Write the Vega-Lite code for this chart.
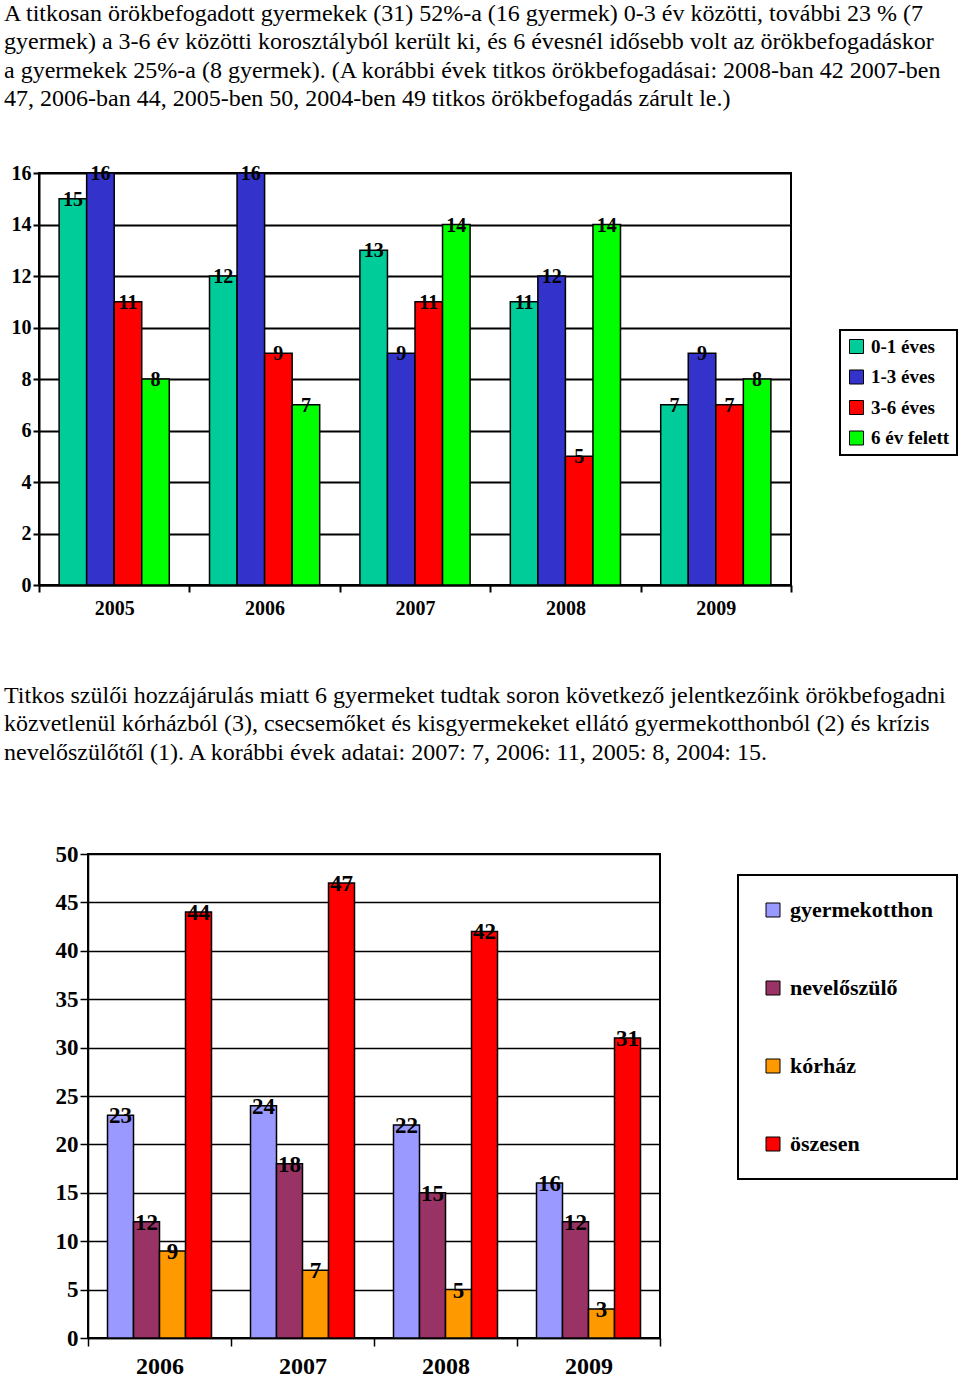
{
  "$schema": "https://vega.github.io/schema/vega-lite/v6.json",
  "background": "white",
  "padding": {"left": 3, "top": 0, "right": 0, "bottom": 0},
  "spacing": 64,
  "resolve": {"scale": {"x": "independent", "y": "independent", "xOffset": "independent", "color": "independent"}, "legend": {"color": "independent"}, "axis": {"x": "independent", "y": "independent"}},
  "config": {
    "font": "Liberation Serif",
    "view": {"stroke": "black", "strokeWidth": 2},
    "axis": {"labelColor": "black", "labelFont": "Liberation Serif", "labelFontWeight": "bold", "domainColor": "black", "tickColor": "black", "gridColor": "black", "gridOpacity": 1},
    "legend": {"strokeWidth": 2}
  },
  "datasets": {
    "age": [
      {"ev": "2005", "kor": "0-1 éves", "db": 15}, {"ev": "2005", "kor": "1-3 éves", "db": 16}, {"ev": "2005", "kor": "3-6 éves", "db": 11}, {"ev": "2005", "kor": "6 év felett", "db": 8},
      {"ev": "2006", "kor": "0-1 éves", "db": 12}, {"ev": "2006", "kor": "1-3 éves", "db": 16}, {"ev": "2006", "kor": "3-6 éves", "db": 9}, {"ev": "2006", "kor": "6 év felett", "db": 7},
      {"ev": "2007", "kor": "0-1 éves", "db": 13}, {"ev": "2007", "kor": "1-3 éves", "db": 9}, {"ev": "2007", "kor": "3-6 éves", "db": 11}, {"ev": "2007", "kor": "6 év felett", "db": 14},
      {"ev": "2008", "kor": "0-1 éves", "db": 11}, {"ev": "2008", "kor": "1-3 éves", "db": 12}, {"ev": "2008", "kor": "3-6 éves", "db": 5}, {"ev": "2008", "kor": "6 év felett", "db": 14},
      {"ev": "2009", "kor": "0-1 éves", "db": 7}, {"ev": "2009", "kor": "1-3 éves", "db": 9}, {"ev": "2009", "kor": "3-6 éves", "db": 7}, {"ev": "2009", "kor": "6 év felett", "db": 8}
    ],
    "src": [
      {"ev": "2006", "hely": "gyermekotthon", "db": 23}, {"ev": "2006", "hely": "nevelőszülő", "db": 12}, {"ev": "2006", "hely": "kórház", "db": 9}, {"ev": "2006", "hely": "öszesen", "db": 44},
      {"ev": "2007", "hely": "gyermekotthon", "db": 24}, {"ev": "2007", "hely": "nevelőszülő", "db": 18}, {"ev": "2007", "hely": "kórház", "db": 7}, {"ev": "2007", "hely": "öszesen", "db": 47},
      {"ev": "2008", "hely": "gyermekotthon", "db": 22}, {"ev": "2008", "hely": "nevelőszülő", "db": 15}, {"ev": "2008", "hely": "kórház", "db": 5}, {"ev": "2008", "hely": "öszesen", "db": 42},
      {"ev": "2009", "hely": "gyermekotthon", "db": 16}, {"ev": "2009", "hely": "nevelőszülő", "db": 12}, {"ev": "2009", "hely": "kórház", "db": 3}, {"ev": "2009", "hely": "öszesen", "db": 31}
    ],
    "blank": [{"n": 0}]
  },
  "vconcat": [
    {
      "width": 752,
      "height": 412,
      "title": {
        "text": [
          "A titkosan örökbefogadott gyermekek (31) 52%-a (16 gyermek) 0-3 év közötti, további 23 % (7",
          "gyermek) a 3-6 év közötti korosztályból került ki, és 6 évesnél idősebb volt az örökbefogadáskor",
          "a gyermekek 25%-a (8 gyermek). (A korábbi évek titkos örökbefogadásai: 2008-ban 42 2007-ben",
          "47, 2006-ban 44, 2005-ben 50, 2004-ben 49 titkos örökbefogadás zárult le.)"
        ],
        "anchor": "start", "frame": "group", "dx": -35, "offset": 52,
        "font": "Liberation Serif", "fontSize": 24, "fontWeight": "normal", "lineHeight": 28.4, "color": "black"
      },
      "data": {"name": "age"},
      "encoding": {
        "x": {"field": "ev", "type": "nominal", "scale": {"paddingInner": 0, "paddingOuter": 0},
          "axis": {"title": null, "labelAngle": 0, "tickBand": "extent", "labelFontSize": 20, "tickSize": 7, "tickWidth": 2, "domainWidth": 2, "labelPadding": 6}},
        "xOffset": {"field": "kor", "type": "nominal", "scale": {"paddingInner": 0, "paddingOuter": 0.73}},
        "y": {"field": "db", "type": "quantitative", "scale": {"domain": [0, 16], "nice": false},
          "axis": {"title": null, "values": [0, 2, 4, 6, 8, 10, 12, 14, 16], "labelFontSize": 20, "tickSize": 6, "tickWidth": 2, "domainWidth": 2, "gridWidth": 2, "labelPadding": 2}}
      },
      "layer": [
        {
          "mark": {"type": "bar", "stroke": "black", "strokeWidth": 1.5},
          "encoding": {
            "color": {"field": "kor", "type": "nominal",
              "scale": {"domain": ["0-1 éves", "1-3 éves", "3-6 éves", "6 év felett"], "range": ["#00CC99", "#3333CC", "#FF0000", "#00FF00"]},
              "legend": {"title": null, "orient": "none", "legendX": 801, "legendY": 157, "strokeColor": "black", "fillColor": "white", "padding": 7,
                "symbolType": "square", "symbolSize": 196, "symbolStrokeColor": "black", "symbolStrokeWidth": 1, "symbolOpacity": 1,
                "labelFont": "Liberation Serif", "labelFontSize": 19, "labelFontWeight": "bold", "labelColor": "black", "rowPadding": 10.5, "labelOffset": 5}}
          }
        },
        {
          "mark": {"type": "text", "baseline": "middle", "fontWeight": "bold", "fontSize": 20, "dy": 1, "color": "black"},
          "encoding": {"text": {"field": "db", "type": "quantitative"}}
        }
      ]
    },
    {
      "title": {
        "text": [
          "Titkos szülői hozzájárulás miatt 6 gyermeket tudtak soron következő jelentkezőink örökbefogadni",
          "közvetlenül kórházból (3), csecsemőket és kisgyermekeket ellátó gyermekotthonból (2) és krízis",
          "nevelőszülőtől (1). A korábbi évek adatai: 2007: 7, 2006: 11, 2005: 8, 2004: 15."
        ],
        "anchor": "start", "frame": "group", "dx": -35, "offset": 77,
        "font": "Liberation Serif", "fontSize": 24, "fontWeight": "normal", "lineHeight": 28.6, "color": "black"
      },
      "spacing": 11,
      "hconcat": [
        {
          "width": 1,
          "height": 1,
          "view": {"stroke": null},
          "data": {"name": "blank"},
          "mark": {"type": "point", "opacity": 0}
        },
        {
          "width": 572,
          "height": 484,
          "data": {"name": "src"},
          "encoding": {
            "x": {"field": "ev", "type": "nominal", "scale": {"paddingInner": 0, "paddingOuter": 0},
              "axis": {"title": null, "labelAngle": 0, "tickBand": "extent", "labelFontSize": 24, "tickSize": 8, "tickWidth": 1.5, "domainWidth": 1.5, "labelPadding": 8}},
            "xOffset": {"field": "hely", "type": "nominal", "sort": ["gyermekotthon", "nevelőszülő", "kórház", "öszesen"], "scale": {"paddingInner": 0, "paddingOuter": 0.75}},
            "y": {"field": "db", "type": "quantitative", "scale": {"domain": [0, 50], "nice": false},
              "axis": {"title": null, "values": [0, 5, 10, 15, 20, 25, 30, 35, 40, 45, 50], "labelFontSize": 23, "tickSize": 8, "tickWidth": 1.5, "domainWidth": 1.5, "gridWidth": 1.5, "labelPadding": 2}}
          },
          "layer": [
            {
              "mark": {"type": "bar", "stroke": "black", "strokeWidth": 1.5},
              "encoding": {
                "color": {"field": "hely", "type": "nominal",
                  "scale": {"domain": ["gyermekotthon", "nevelőszülő", "kórház", "öszesen"], "range": ["#9999FF", "#993366", "#FF9900", "#FF0000"]},
                  "legend": {"title": null, "orient": "none", "legendX": 699, "legendY": 21, "strokeColor": "black", "fillColor": "white", "padding": 24,
                    "symbolType": "square", "symbolSize": 196, "symbolStrokeColor": "black", "symbolStrokeWidth": 1, "symbolOpacity": 1,
                    "labelFont": "Liberation Serif", "labelFontSize": 22, "labelFontWeight": "bold", "labelColor": "black", "rowPadding": 56, "labelOffset": 6}}
              }
            },
            {
              "mark": {"type": "text", "baseline": "middle", "fontWeight": "bold", "fontSize": 23, "dy": 1, "color": "black"},
              "encoding": {"text": {"field": "db", "type": "quantitative"}}
            }
          ]
        }
      ]
    }
  ]
}
